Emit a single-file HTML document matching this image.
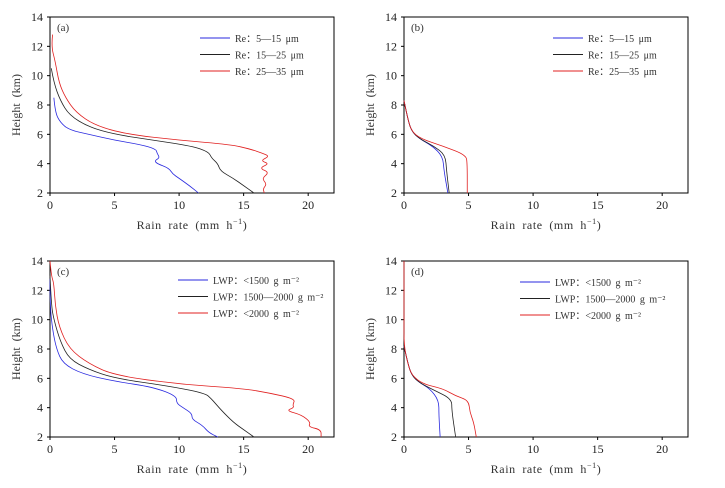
<!DOCTYPE html>
<html><head><meta charset="utf-8"><style>
body{margin:0;background:#fff;}
svg{display:block;}
svg text{font-family:"Liberation Serif","DejaVu Serif",serif;}
</style></head><body>
<svg id="fig" width="725" height="488"></svg>
<script>
const xTicks=[0,5,10,15,20];
const yTicks=[2,4,6,8,10,12,14];
const legendA=["Re\uFF1A5\u201415 \u03BCm","Re\uFF1A15\u201425 \u03BCm","Re\uFF1A25\u201435 \u03BCm"];
const legendC=["LWP\uFF1A<1500 g m\u207B\u00B2","LWP\uFF1A1500\u20142000 g m\u207B\u00B2","LWP\uFF1A<2000 g m\u207B\u00B2"];
const colors=["#2a2adf","#222","#e02020"];
// series: [rate, height]
const aBlue=[[0.3,8.5],[0.4,7.5],[0.8,6.8],[1.5,6.3],[3,6.0],[5,5.6],[7,5.3],[8.2,5.0],[8.3,4.7],[8.5,4.4],[8.1,4.2],[8.3,4.0],[9.2,3.7],[9.5,3.3],[10,3.0],[10.8,2.5],[11.5,2.0]];
const aBlack=[[0.1,10.5],[0.3,9.5],[0.8,8.3],[1.5,7.3],[3,6.5],[5,6.0],[8,5.6],[11,5.2],[12.3,4.8],[12.5,4.4],[13,4.0],[13.2,3.5],[14.2,3.0],[15,2.5],[15.8,2.0]];
const aRed=[[0.2,12.8],[0.1,12.0],[0.4,11],[0.7,9.5],[1.2,8.5],[2,7.5],[3.5,6.6],[6,6.0],[10,5.6],[14,5.3],[15.5,5.0],[16.5,4.7],[17,4.5],[16.3,4.2],[17,4.0],[16.2,3.7],[17,3.4],[16.4,3.0],[16.8,2.6],[16.5,2.3],[16.6,2.0]];
const bBlue=[[0,8.3],[0.3,7],[0.6,6.2],[1.2,5.7],[2.2,5.2],[3,4.5],[3.1,3.5],[3.4,2.0]];
const bBlack=[[0,8.3],[0.3,7],[0.6,6.2],[1.2,5.7],[2.3,5.2],[3.2,4.6],[3.3,3.5],[3.5,2.0]];
const bRed=[[0,8.3],[0.3,7],[0.6,6.2],[1.3,5.7],[3,5.2],[4.8,4.6],[4.9,4.0],[4.9,2.0]];
const cBlue=[[0,12.8],[0,11],[0.2,9.3],[0.5,8],[1,7],[2.5,6.3],[5,5.8],[8,5.4],[9.8,4.8],[9.8,4.3],[10.3,4.0],[11,3.6],[11,3.2],[11.8,2.8],[12.3,2.3],[13,2.0]];
const cBlack=[[0,13],[0.1,11],[0.3,10],[0.8,8.5],[1.5,7.3],[3,6.6],[5,6.0],[9,5.5],[12,5.0],[12.5,4.6],[12.8,4.3],[13.3,3.8],[14.2,3.0],[15,2.5],[15.8,2.0]];
const cRed=[[0,14],[0.1,13],[0.3,12.5],[0.4,11],[0.7,9.5],[1.5,8],[3,7],[5,6.2],[10,5.6],[15,5.3],[17,5.0],[19,4.6],[18.8,4.2],[18.9,4.0],[18.3,3.8],[19.5,3.5],[20.2,3.0],[20.0,2.7],[21,2.5],[21,2.0]];
const dBlue=[[0,8.2],[0.3,7],[0.6,6.2],[1.2,5.7],[2,5.3],[2.7,4.5],[2.7,3.5],[2.8,2.0]];
const dBlack=[[0,8.2],[0.3,7],[0.6,6.2],[1.2,5.7],[2.3,5.2],[3.7,4.6],[3.7,3.8],[4,2.0]];
const dRed=[[0,14],[0,10],[0,8.2],[0.3,7],[0.6,6.2],[1.5,5.6],[3,5.3],[4,4.8],[5,4.5],[5.1,3.7],[5.4,3],[5.6,2.0]];

const NS="http://www.w3.org/2000/svg";
const svg=document.getElementById('fig');
function mk(t,a,p){const e=document.createElementNS(NS,t);for(const k in a)e.setAttribute(k,a[k]);(p||svg).appendChild(e);return e;}
function smooth(pts){
  let d='M'+pts[0][0]+','+pts[0][1];
  for(let i=1;i<pts.length-1;i++){
    const mx=(pts[i][0]+pts[i+1][0])/2, my=(pts[i][1]+pts[i+1][1])/2;
    d+=' Q'+pts[i][0]+','+pts[i][1]+' '+mx+','+my;
  }
  const L=pts[pts.length-1];d+=' L'+L[0]+','+L[1];
  return d;
}
function panel(id,x0,y0,label,series,legend,lx,ly){
  const W=284,H=176;
  const g=mk('g',{});
  
  
  const xs=v=>x0+v/22*W, ys=v=>y0+H-(v-2)/12*H;
  const fr=mk('rect',{x:x0,y:y0,width:W,height:H,fill:'none',stroke:'#000','stroke-width':1},g);
  
  
  xTicks.forEach(t=>{
    mk('line',{x1:xs(t),x2:xs(t),y1:y0+H,y2:y0+H+3,stroke:'#000'},g);
    const tx=mk('text',{x:xs(t),y:y0+H+16,'font-size':12,'text-anchor':'middle',fill:'#222'},g);tx.textContent=t;
    
    
  });
  yTicks.forEach(t=>{
    mk('line',{x1:x0-3,x2:x0,y1:ys(t),y2:ys(t),stroke:'#000'},g);
    const tx=mk('text',{x:x0-7,y:ys(t)+4,'font-size':12,'text-anchor':'end',fill:'#222'},g);tx.textContent=t;
    
    
  });
  const xt=mk('text',{x:x0+W/2,y:y0+H+36,'font-size':12,'text-anchor':'middle',fill:'#333','letter-spacing':'0.6','word-spacing':'3'},g);
  xt.innerHTML='Rain rate (mm h<tspan font-size="8" dy="-5">\u22121</tspan><tspan dy="5">)</tspan>';
  
  
  const yt=mk('text',{x:0,y:0,'font-size':12,'text-anchor':'middle',fill:'#333','word-spacing':'3',transform:`translate(${x0-30},${y0+H/2}) rotate(-90)`},g);
  yt.textContent='Height (km)';
  
  
  const pl=mk('text',{x:x0+7,y:y0+14,'font-size':11,fill:'#333'},g);pl.textContent=label;
  
  
  series.forEach((s,i)=>{
    const p=mk('path',{d:smooth(s.map(d=>[xs(d[0]),ys(d[1])])),fill:'none',stroke:colors[i],'stroke-width':0.8},g);
    
    
  });
  legend.forEach((t,i)=>{
    const y=ly+i*16.5;
    const l=mk('line',{x1:lx,x2:lx+30,y1:y,y2:y,stroke:colors[i],'stroke-width':1},g);
    
    
    const tx=mk('text',{x:lx+35,y:y+4,'font-size':10,fill:'#333','word-spacing':'2'},g);tx.textContent=t;
    
    
  });
}
panel('a',50,17,'(a)',[aBlue,aBlack,aRed],legendA,200,38);
panel('b',404,17,'(b)',[bBlue,bBlack,bRed],legendA,553,38);
panel('c',50,261,'(c)',[cBlue,cBlack,cRed],legendC,178,280);
panel('d',404,261,'(d)',[dBlue,dBlack,dRed],legendC,520,282);
</script>
</body></html>
